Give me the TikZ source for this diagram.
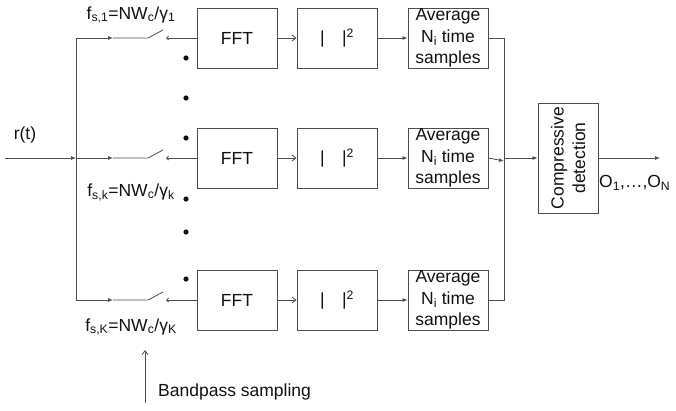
\documentclass[tikz,border=0pt]{standalone}
\usepackage{fontspec}
\setmainfont{Liberation Sans}
\usetikzlibrary{arrows.meta,calc}
\definecolor{ink}{HTML}{111111}
\definecolor{wire}{HTML}{4D4D4D}
\newcommand{\lbl}{\fontsize{17.5}{21.5}\selectfont}
\tikzset{
  blk/.style={draw=wire,line width=0.9pt,minimum width=80,minimum height=60,inner sep=0,text=ink,align=center},
  wireln/.style={wire,line width=0.8pt},
  tip/.style={-{Latex[length=5pt,width=4pt]}},
  opentip/.style={-{Straight Barb[length=4pt,width=6pt]}},
  swtip/.style={-{Straight Barb[length=2pt,width=4pt]}},
}

\begin{document}
\begin{tikzpicture}[x=1pt,y=-1pt,font=\lbl]
\useasboundingbox (0,0) rectangle (676,410);
% branches
\foreach \n/\y/\k/\ly in {1/38/1/15,2/158/k/192,3/300/K/327}{
  \coordinate (bus\n) at (76,\y);
  \coordinate (mid\n) at (113,\y);
  \coordinate (sw\n) at (148,\y);
  \coordinate (swb\n) at (166,\y);
  \node[blk] (fft\n) at (237,\y) {FFT};
  \node[blk] (sq\n) at (337,\y) {|\hspace{17.5pt}|\textsuperscript{2}};
  \node[blk] (avg\n) at (448,\y) {Average\\N\textsubscript{i} time\\samples};
  \node[inner sep=0,text=ink] (fs\n) at (131,\ly) {f\textsubscript{s,\k}=NW\textsubscript{c}/γ\textsubscript{\k}};
  \draw[wireln,tip] (bus\n) -- (mid\n);
  \draw[wireln] (mid\n) -- (sw\n) -- ++(15,-8);
  \draw[wireln,swtip] (fft\n.west) -- (swb\n);
  \draw[wireln,opentip] (fft\n) -- (sq\n);
  \draw[wireln,tip] (sq\n) -- (avg\n);
}
\draw[wireln] (bus1) -- (bus3);
% input
\coordinate (rin) at (5,158);
\node[inner sep=0,text=ink] (rt) at (25,135) {r(t)};
\draw[wireln,tip] (rin) -- (bus2);
% dots
\foreach \y in {58,98,138,199,232,279}
  \fill[ink] (186,\y) circle (2.6);
% combining
\node[blk,minimum width=60,minimum height=110] (comp) at (568,158) {};
\node[rotate=90,inner sep=0,align=center,text=ink] (comptxt) at (comp.center) {Compressive\\detection};
\coordinate (jt) at (504,38);
\coordinate (jm) at (504,161);
\coordinate (jn) at (504,158);
\draw[wireln] (avg1.east) -- (jt) -- (jt |- avg3.east) -- (avg3.east);
\draw[wireln,tip] (avg2.east) -- (jm);
\draw[wireln,tip] (jn) -- (comp.west);
\coordinate (out) at (660,158);
\draw[wireln,tip] (comp.east) -- (out);
\node[anchor=west,inner sep=0,text=ink] (olbl) at (599,183) {O\textsubscript{1},…,O\textsubscript{N}};
% bandpass note
\coordinate (bpfoot) at (145,403);
\coordinate (bptop) at (145,350);
\draw[wireln,opentip] (bpfoot) -- (bptop);
\node[anchor=west,inner sep=0,text=ink] (bp) at (158,392) {Bandpass sampling};
\end{tikzpicture}
\end{document}
